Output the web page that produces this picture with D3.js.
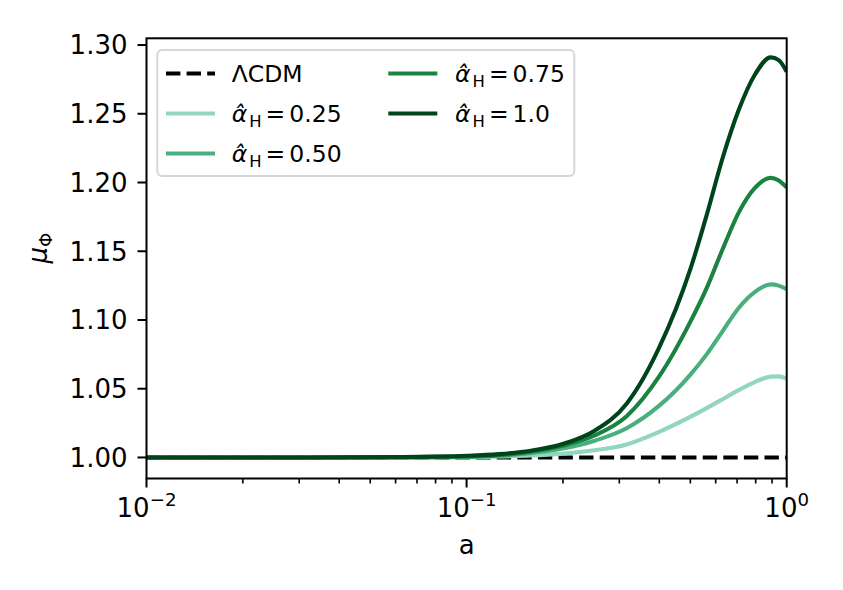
<!DOCTYPE html>
<html><head><meta charset="utf-8">
<script src="https://cdn.jsdelivr.net/npm/d3@7"></script>
<style>body{margin:0;background:#fff} svg{font-family:"DejaVu Sans",sans-serif;display:block}</style>
</head><body><svg id="c" width="843" height="590"></svg>
<script>
// ---- data ----
const aGrid = [0.01, 0.0316, 0.0631, 0.0794, 0.1, 0.1259, 0.1585, 0.1995, 0.2512, 0.3162, 0.3981, 0.5012, 0.5623, 0.6310, 0.7079, 0.7943, 0.8913, 0.9441, 1.0];
const mu025 = [1.0, 1.0, 1.0, 1.0001, 1.0002, 1.0007, 1.0014, 1.0028, 1.0052, 1.0095, 1.0185, 1.0297, 1.0359, 1.0424, 1.0490, 1.0548, 1.0588, 1.0590, 1.0573];
const mu050 = [1.0, 1.0, 1.0001, 1.0002, 1.0004, 1.0012, 1.0031, 1.0065, 1.0122, 1.0213, 1.0373, 1.0605, 1.0750, 1.0919, 1.1087, 1.1203, 1.1259, 1.1250, 1.1225];
const mu075 = [1.0, 1.0, 1.0002, 1.0004, 1.0007, 1.0017, 1.0042, 1.0085, 1.0160, 1.0300, 1.0584, 1.0992, 1.1232, 1.1516, 1.1781, 1.1959, 1.2034, 1.2014, 1.1963];
const mu100 = [1.0, 1.0, 1.0003, 1.0006, 1.0012, 1.0024, 1.0049, 1.0098, 1.0195, 1.0391, 1.0791, 1.1377, 1.1763, 1.2180, 1.2527, 1.2782, 1.2910, 1.2890, 1.2806];
const lcdmA = [0.01, 1.0];
const lcdmMu = [1.0, 1.0];
const seriesLabels = ["0.25", "0.50", "0.75", "1.0"];
const seriesColors = ["#93d5c1", "#4aaf7e", "#1a833f", "#00441b"];
const yTicks = [1.00, 1.05, 1.10, 1.15, 1.20, 1.25, 1.30];
const xMajor = [0.01, 0.1, 1];
const xMajorExp = ["\u22122", "\u22121", "0"];
const xMinor = [0.02,0.03,0.04,0.05,0.06,0.07,0.08,0.09,0.2,0.3,0.4,0.5,0.6,0.7,0.8,0.9];

const seriesMu = [mu025, mu050, mu075, mu100];

// ---- layout ----
const L = 146.5, R = 786.7, T = 38.3, B = 478.5;
const svg = d3.select("#c");
const x = d3.scaleLog().domain([0.01, 1]).range([L, R]);
const y = d3.scaleLinear().domain([0.9847, 1.3049]).range([B, T]);
const FS = 26;
const LW = 4.1;

svg.append("clipPath").attr("id","pc").append("rect")
  .attr("x", L).attr("y", T).attr("width", R-L).attr("height", B-T);
const plot = svg.append("g").attr("clip-path","url(#pc)");

const line = d3.line().x(d => x(d[0])).y(d => y(d[1])).curve(d3.curveMonotoneX);

plot.append("path").datum(lcdmA.map((v,i)=>[v, lcdmMu[i]]))
  .attr("d", line).attr("fill","none").attr("stroke","#000")
  .attr("stroke-width",LW).attr("stroke-dasharray","14.4,6.2");

seriesMu.forEach((mu,i)=>{
  plot.append("path").datum(aGrid.map((v,j)=>[v, mu[j]]))
    .attr("d", line).attr("fill","none").attr("stroke", seriesColors[i])
    .attr("stroke-width",LW).attr("stroke-linejoin","round");
});

// ---- axes ----
const ax = svg.append("g");
ax.append("rect").attr("x",L).attr("y",T).attr("width",R-L).attr("height",B-T)
  .attr("fill","none").attr("stroke","#000").attr("stroke-width",2);

yTicks.forEach(t=>{
  ax.append("line").attr("x1",L).attr("x2",L-9).attr("y1",y(t)).attr("y2",y(t))
    .attr("stroke","#000").attr("stroke-width",2);
  ax.append("text").attr("x",L-19).attr("y",y(t)).attr("dy","0.36em")
    .attr("text-anchor","end").attr("font-size",FS).text(d3.format(".2f")(t));
});
xMajor.forEach((t,i)=>{
  ax.append("line").attr("x1",x(t)).attr("x2",x(t)).attr("y1",B).attr("y2",B+9)
    .attr("stroke","#000").attr("stroke-width",2);
  const tx = ax.append("text").attr("x",x(t)).attr("y",B+38.5)
    .attr("text-anchor","middle").attr("font-size",FS);
  tx.append("tspan").text("10");
  tx.append("tspan").attr("font-size",FS*0.7).attr("dy",-11).text(xMajorExp[i]);
});
xMinor.forEach(t=>{
  ax.append("line").attr("x1",x(t)).attr("x2",x(t)).attr("y1",B).attr("y2",B+5)
    .attr("stroke","#000").attr("stroke-width",1.6);
});

svg.append("text").attr("x",(L+R)/2).attr("y",554).attr("text-anchor","middle")
  .attr("font-size",FS).text("a");

const yl = svg.append("text").attr("transform","translate(47,248) rotate(-90)")
  .attr("text-anchor","middle").attr("font-size",FS);
yl.append("tspan").attr("font-style","italic").text("\u03bc");
yl.append("tspan").attr("font-size",FS*0.7).attr("dy",5).text("\u03a6");

// ---- legend ----
const lg = svg.append("g");
lg.append("rect").attr("x",157.3).attr("y",50).attr("width",417).attr("height",126)
  .attr("rx",5).attr("fill","#fff").attr("fill-opacity",0.8)
  .attr("stroke","#d6d6d6").attr("stroke-width",2);
const LFS = 23.5;
const items = [
  {col:0,row:0,color:"#000",dash:true,label:null},
  {col:0,row:1,color:seriesColors[0],label:seriesLabels[0]},
  {col:0,row:2,color:seriesColors[1],label:seriesLabels[1]},
  {col:1,row:0,color:seriesColors[2],label:seriesLabels[2]},
  {col:1,row:1,color:seriesColors[3],label:seriesLabels[3]}
];
const colX = [166, 388.3], textX = [231.7, 455], rowY = [73.5, 113.5, 153.5];
items.forEach(it=>{
  const yy = rowY[it.row];
  lg.append("line").attr("x1",colX[it.col]).attr("x2",colX[it.col]+49)
    .attr("y1",yy).attr("y2",yy).attr("stroke",it.color).attr("stroke-width",LW)
    .attr("stroke-dasharray", it.dash ? "14.4,6.2" : null);
  const t = lg.append("text").attr("x",textX[it.col]).attr("y",yy).attr("dy","0.36em")
    .attr("font-size",LFS);
  if (it.label === null) { t.text("\u039bCDM"); return; }
  t.append("tspan").attr("font-style","italic").text("\u03b1\u0302");
  t.append("tspan").attr("font-size",LFS*0.7).attr("dx",2).attr("dy",5).text("H");
  t.append("tspan").attr("dy",-5).attr("dx",4).text("=");
  t.append("tspan").attr("dx",4).text(it.label);
});
</script></body></html>
